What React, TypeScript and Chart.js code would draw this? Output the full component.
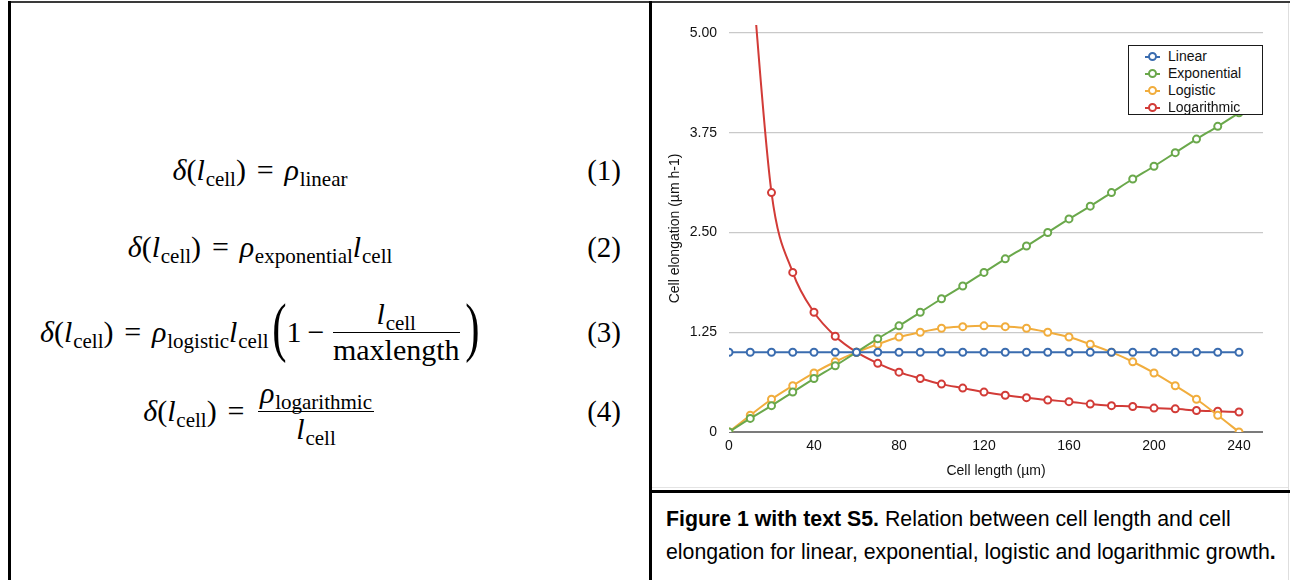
import React, { useEffect, useRef } from "react";
import { Chart, registerables } from "chart.js";

Chart.register(...registerables);

// Cell length (µm) sampled every 10 µm
const cellLength = [0, 10, 20, 30, 40, 50, 60, 70, 80, 90, 100, 110, 120, 130, 140, 150, 160, 170, 180, 190, 200, 210, 220, 230, 240];

// Cell elongation (µm h-1) for each growth model
const linearGrowth = [1, 1, 1, 1, 1, 1, 1, 1, 1, 1, 1, 1, 1, 1, 1, 1, 1, 1, 1, 1, 1, 1, 1, 1, 1];
const exponentialGrowth = [0, 0.17, 0.33, 0.5, 0.67, 0.83, 1, 1.17, 1.33, 1.5, 1.67, 1.83, 2, 2.17, 2.33, 2.5, 2.67, 2.83, 3, 3.17, 3.33, 3.5, 3.67, 3.83, 4];
const logisticGrowth = [0, 0.21, 0.41, 0.58, 0.74, 0.88, 1, 1.1, 1.19, 1.25, 1.3, 1.32, 1.33, 1.32, 1.3, 1.25, 1.19, 1.1, 1, 0.88, 0.74, 0.58, 0.41, 0.21, 0];
const logarithmicGrowth = [null, 6, 3, 2, 1.5, 1.2, 1, 0.86, 0.75, 0.67, 0.6, 0.55, 0.5, 0.46, 0.43, 0.4, 0.38, 0.35, 0.33, 0.32, 0.3, 0.29, 0.27, 0.26, 0.25];

const seriesNames = ["Linear", "Exponential", "Logistic", "Logarithmic"];
const seriesColors = ["#3a6caf", "#6aa84b", "#f1ad3d", "#d23b37"];

const xTickValues = [0, 40, 80, 120, 160, 200, 240];
const yTickValues = [0, 1.25, 2.5, 3.75, 5];

const uiFont = '"Liberation Sans", Arial, Helvetica, sans-serif';
const mathFont = '"Liberation Serif", "Times New Roman", serif';

function Sub({ children }: { children: React.ReactNode }) {
  return (
    <span style={{ fontSize: "0.7em", position: "relative", top: "0.3em", fontStyle: "normal", marginLeft: "0.04em" }}>
      {children}
    </span>
  );
}

function It({ children }: { children: React.ReactNode }) {
  return <span style={{ fontStyle: "italic" }}>{children}</span>;
}

function Lhs() {
  return (
    <span>
      <It>δ</It>(<It>l</It>
      <Sub>cell</Sub>)<span style={{ margin: "0 0.36em" }}>=</span>
    </span>
  );
}

function Frac({ num, den }: { num: React.ReactNode; den: React.ReactNode }) {
  return (
    <span style={{ display: "inline-flex", flexDirection: "column", alignItems: "center", margin: "0 0.08em" }}>
      <span style={{ padding: "0 0.08em 3px" }}>{num}</span>
      <span style={{ borderTop: "1.4px solid #000", alignSelf: "stretch" }} />
      <span style={{ paddingTop: 2 }}>{den}</span>
    </span>
  );
}

function BigParen({ ch }: { ch: string }) {
  return (
    <span
      style={{
        fontSize: 66,
        lineHeight: 1,
        display: "inline-block",
        width: 18,
        textAlign: "center",
        transform: "scaleX(0.65)",
        position: "relative",
        top: -5,
      }}
    >
      {ch}
    </span>
  );
}

function EqRow({ y, num, children }: { y: number; num: number; children: React.ReactNode }) {
  return (
    <>
      <div
        style={{
          position: "absolute",
          left: 10,
          width: 500,
          top: y,
          height: 0,
          display: "flex",
          justifyContent: "center",
          alignItems: "center",
          fontFamily: mathFont,
          fontSize: 30,
          lineHeight: 1,
          whiteSpace: "nowrap",
        }}
      >
        {children}
      </div>
      <div
        style={{
          position: "absolute",
          left: 560,
          width: 61,
          top: y,
          height: 0,
          display: "flex",
          justifyContent: "flex-end",
          alignItems: "center",
          fontFamily: mathFont,
          fontSize: 29,
          lineHeight: 1,
        }}
      >
        <span>({num})</span>
      </div>
    </>
  );
}

function GrowthChart() {
  const canvasRef = useRef<HTMLCanvasElement | null>(null);

  useEffect(() => {
    const canvas = canvasRef.current;
    if (!canvas) return;
    const series = [linearGrowth, exponentialGrowth, logisticGrowth, logarithmicGrowth];
    const chart = new Chart(canvas, {
      type: "line",
      data: {
        datasets: series.map((values, k) => ({
          label: seriesNames[k],
          data: cellLength
            .map((x, i) => ({ x, y: values[i] }))
            .filter((p) => p.y !== null),
          borderColor: seriesColors[k],
          backgroundColor: "#ffffff",
          pointBackgroundColor: "#ffffff",
          pointBorderColor: seriesColors[k],
          pointBorderWidth: 2,
          pointRadius: 3.5,
          borderWidth: 2,
          cubicInterpolationMode: "monotone",
        })),
      },
      options: {
        animation: false,
        responsive: false,
        devicePixelRatio: 1,
        layout: { padding: { top: 25, right: 25, left: 0, bottom: 0 } },
        plugins: {
          legend: { display: false },
          tooltip: { enabled: false },
        },
        scales: {
          x: {
            type: "linear",
            min: 0,
            max: 251.3,
            afterBuildTicks: (s: any) => {
              s.ticks = xTickValues.map((v) => ({ value: v }));
            },
            afterFit: (s: any) => {
              s.height = 56;
            },
            grid: { display: false, drawTicks: false },
            border: { display: false },
            ticks: {
              padding: 6,
              color: "#111",
              font: { family: uiFont, size: 14 },
              maxRotation: 0,
              autoSkip: false,
              callback: (v: any) => String(v),
            },
            title: {
              display: true,
              text: "Cell length (µm)",
              color: "#111",
              font: { family: uiFont, size: 14 },
              padding: { top: 0, bottom: 8 },
            },
          },
          y: {
            type: "linear",
            min: 0,
            max: 5.1,
            afterBuildTicks: (s: any) => {
              s.ticks = yTickValues.map((v) => ({ value: v }));
            },
            afterFit: (s: any) => {
              s.width = 77;
            },
            grid: {
              drawTicks: false,
              color: (ctx: any) => (ctx.tick && ctx.tick.value === 0 ? "#7b7b7b" : "#c9c9c9"),
              lineWidth: (ctx: any) => (ctx.tick && ctx.tick.value === 0 ? 2 : 1.3),
            },
            border: { display: false },
            ticks: {
              padding: 12,
              color: "#111",
              font: { family: uiFont, size: 14 },
              autoSkip: false,
              callback: (v: any) => (Number(v) === 0 ? "0" : Number(v).toFixed(2)),
            },
            title: {
              display: true,
              text: "Cell elongation (µm h-1)",
              color: "#111",
              font: { family: uiFont, size: 14 },
              padding: { top: 15, bottom: 0 },
            },
          },
        },
      } as any,
    });
    return () => chart.destroy();
  }, []);

  return (
    <canvas
      ref={canvasRef}
      width={636}
      height={488}
      style={{ position: "absolute", left: 652, top: 0, width: 636, height: 488 }}
    />
  );
}

function Legend() {
  return (
    <div
      style={{
        position: "absolute",
        left: 1128,
        top: 45,
        width: 135,
        height: 70,
        boxSizing: "border-box",
        border: "1px solid #1a1a1a",
        background: "#ffffff",
        fontFamily: uiFont,
        fontSize: 14,
        color: "#111",
      }}
    >
      {seriesNames.map((name, k) => (
        <div key={name} style={{ position: "absolute", left: 0, top: 2 + k * 17, height: 17, width: "100%" }}>
          <span
            style={{
              position: "absolute",
              left: 16,
              top: 7.5,
              width: 15,
              height: 2,
              background: seriesColors[k],
            }}
          />
          <span
            style={{
              position: "absolute",
              left: 19,
              top: 4,
              width: 5,
              height: 5,
              border: `2px solid ${seriesColors[k]}`,
              borderRadius: "50%",
              background: "#ffffff",
            }}
          />
          <span style={{ position: "absolute", left: 39, top: 0, lineHeight: "17px", whiteSpace: "nowrap" }}>{name}</span>
        </div>
      ))}
    </div>
  );
}

export default function App() {
  return (
    <div
      style={{
        position: "fixed",
        left: 0,
        top: 0,
        width: 1290,
        height: 580,
        overflow: "hidden",
        background: "#ffffff",
        color: "#000",
      }}
    >
      {/* frame */}
      <div style={{ position: "absolute", left: 8, top: 1, width: 1282, height: 2, background: "#3a3a3a" }} />
      <div style={{ position: "absolute", left: 8, top: 1, width: 3, height: 579, background: "#000" }} />
      <div style={{ position: "absolute", left: 649, top: 1, width: 3, height: 579, background: "#000" }} />
      <div style={{ position: "absolute", left: 652, top: 487, width: 636, height: 1, background: "#e4e4e4" }} />
      <div style={{ position: "absolute", left: 1288, top: 3, width: 1, height: 577, background: "#dedede" }} />
      <div style={{ position: "absolute", left: 651, top: 490, width: 639, height: 3, background: "#000" }} />

      {/* growth model equations */}
      <EqRow y={170} num={1}>
        <Lhs />
        <span>
          <It>ρ</It>
          <Sub>linear</Sub>
        </span>
      </EqRow>
      <EqRow y={247} num={2}>
        <Lhs />
        <span>
          <It>ρ</It>
          <Sub>exponential</Sub>
          <It>l</It>
          <Sub>cell</Sub>
        </span>
      </EqRow>
      <EqRow y={332} num={3}>
        <Lhs />
        <span>
          <It>ρ</It>
          <Sub>logistic</Sub>
          <It>l</It>
          <Sub>cell</Sub>
        </span>
        <BigParen ch="(" />
        <span>
          1<span style={{ margin: "0 0.2em" }}>−</span>
        </span>
        <Frac
          num={
            <span>
              <It>l</It>
              <Sub>cell</Sub>
            </span>
          }
          den={<span>maxlength</span>}
        />
        <BigParen ch=")" />
      </EqRow>
      <EqRow y={411} num={4}>
        <Lhs />
        <Frac
          num={
            <span>
              <It>ρ</It>
              <Sub>logarithmic</Sub>
            </span>
          }
          den={
            <span>
              <It>l</It>
              <Sub>cell</Sub>
            </span>
          }
        />
      </EqRow>

      <GrowthChart />
      <Legend />

      {/* caption */}
      <div
        style={{
          position: "absolute",
          left: 666,
          top: 503,
          fontFamily: uiFont,
          fontSize: 21.3,
          lineHeight: "33px",
          whiteSpace: "nowrap",
          color: "#000",
        }}
      >
        <b>Figure 1 with text S5.</b> Relation between cell length and cell
        <br />
        elongation for linear, exponential, logistic and logarithmic growth<b>.</b>
      </div>
    </div>
  );
}
